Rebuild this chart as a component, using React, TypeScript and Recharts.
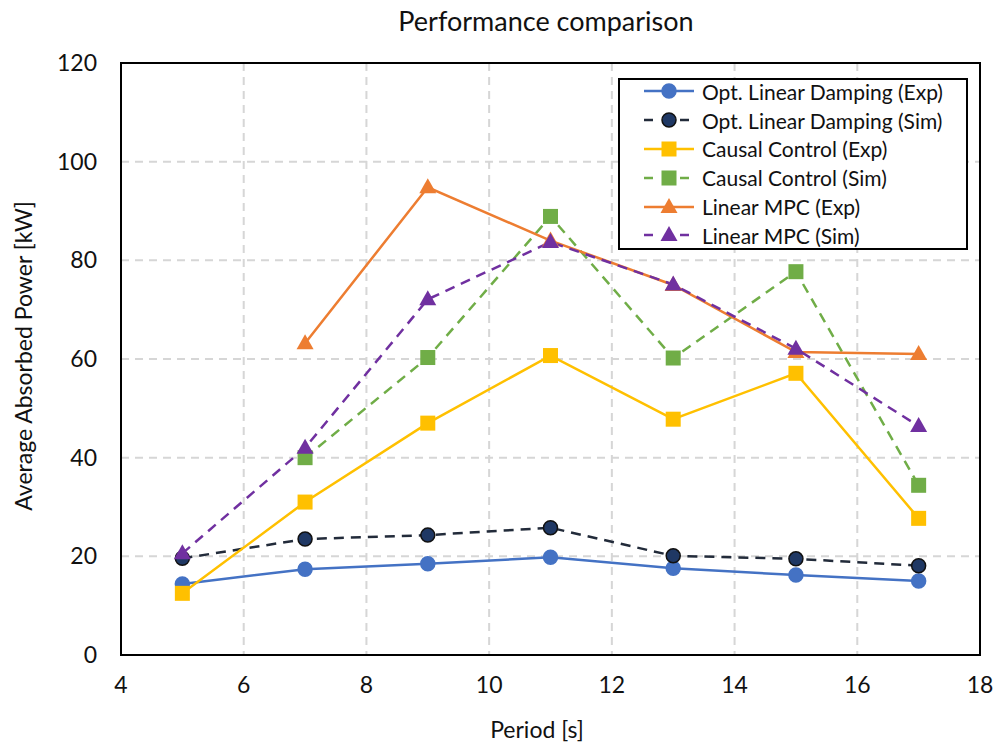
import React from "react";
import {
  LineChart,
  Line,
  XAxis,
  YAxis,
  CartesianGrid,
  ReferenceArea,
} from "recharts";

// Period [s]
const periods = [5, 7, 9, 11, 13, 15, 17];

// Average absorbed power [kW]
const dampExp = [14.4, 17.4, 18.5, 19.8, 17.6, 16.2, 15.0];
const dampSim = [19.6, 23.5, 24.3, 25.8, 20.1, 19.5, 18.1];
const causalExp = [12.5, 31.0, 47.0, 60.7, 47.8, 57.1, 27.7];
const causalSim = [null, 40.0, 60.3, 88.9, 60.2, 77.7, 34.4];
const mpcExp = [null, 63.2, 94.8, 84.0, 75.0, 61.4, 61.0];
const mpcSim = [20.6, 42.0, 72.1, 83.7, 75.1, 62.1, 46.4];

const xTicks = [4, 6, 8, 10, 12, 14, 16, 18];
const yTicks = [0, 20, 40, 60, 80, 100, 120];

const series = [
  { key: "dampExp", name: "Opt. Linear Damping (Exp)", color: "#4472C4", dash: undefined, shape: "circle", fill: "#4472C4" },
  { key: "dampSim", name: "Opt. Linear Damping (Sim)", color: "#222B3A", dash: "10 7", shape: "circle", fill: "#1F3864" },
  { key: "causalExp", name: "Causal Control (Exp)", color: "#FFC000", dash: undefined, shape: "square", fill: "#FFC000" },
  { key: "causalSim", name: "Causal Control (Sim)", color: "#70AD47", dash: "10 7", shape: "square", fill: "#70AD47" },
  { key: "mpcExp", name: "Linear MPC (Exp)", color: "#ED7D31", dash: undefined, shape: "triangle", fill: "#ED7D31" },
  { key: "mpcSim", name: "Linear MPC (Sim)", color: "#7030A0", dash: "10 7", shape: "triangle", fill: "#7030A0" },
];

const data = periods.map((p, i) => ({
  period: p,
  dampExp: dampExp[i],
  dampSim: dampSim[i],
  causalExp: causalExp[i],
  causalSim: causalSim[i],
  mpcExp: mpcExp[i],
  mpcSim: mpcSim[i],
}));

const FONT = "Lato, 'Noto Sans', sans-serif";

function Marker({ cx, cy, shape, fill, stroke }: any) {
  if (cx == null || cy == null || isNaN(cx) || isNaN(cy)) return <g />;
  if (shape === "square")
    return <rect x={cx - 7.5} y={cy - 7.5} width={15} height={15} fill={fill} />;
  if (shape === "triangle")
    return (
      <polygon
        points={`${cx},${cy - 9} ${cx + 8.5},${cy + 6} ${cx - 8.5},${cy + 6}`}
        fill={fill}
      />
    );
  return <circle cx={cx} cy={cy} r={7} fill={fill} stroke={stroke} strokeWidth={1.5} />;
}

function LegendBox() {
  return (
    <div
      style={{
        border: "2px solid #000",
        background: "#fff",
        width: 350,
        height: 172,
        boxSizing: "border-box",
        padding: "0 0 0 22px",
        fontFamily: FONT,
        fontSize: 21,
        color: "#111",
      }}
    >
      <div style={{ marginTop: -3 }}>
        {series.map((s) => (
          <div key={s.key} style={{ display: "flex", alignItems: "center", height: 28.8 }}>
            <svg width={56} height={20} style={{ marginRight: 4 }}>
              <line
                x1={2}
                x2={52}
                y1={10}
                y2={10}
                stroke={s.color}
                strokeWidth={2.5}
                strokeDasharray={s.dash ? "9 9" : undefined}
              />
              {s.dash && <rect x={17} y={0} width={18} height={20} fill="#fff" />}
              <Marker cx={27} cy={10} shape={s.shape} fill={s.fill} stroke={s.key === "dampSim" ? "#111" : s.fill} />
            </svg>
            <span>{s.name}</span>
          </div>
        ))}
      </div>
    </div>
  );
}

export default function App() {
  return (
    <div style={{ position: "absolute", left: 0, top: 0, width: 997, height: 747, background: "#fff" }}>
      <div
        style={{
          position: "absolute",
          top: 4,
          left: 0,
          width: 1092,
          textAlign: "center",
          fontFamily: FONT,
          fontSize: 27,
          color: "#111",
        }}
      >
        Performance comparison
      </div>
      <LineChart
        width={997}
        height={747}
        data={data}
        margin={{ top: 63, right: 17, bottom: 0, left: 0 }}
      >
        <CartesianGrid stroke="#d6d6d6" strokeWidth={2} strokeDasharray="8 6" />
        <XAxis
          dataKey="period"
          type="number"
          domain={[4, 18]}
          ticks={xTicks}
          height={92}
          axisLine={false}
          tickLine={false}
          tickSize={0}
          tickMargin={22}
          tick={{ fill: "#111", fontSize: 23, fontFamily: FONT }}
          label={{
            content: () => (
              <text x={537} y={738} textAnchor="middle" fill="#111" fontSize={23} fontFamily={FONT}>
                Period [s]
              </text>
            ),
          }}
        />
        <YAxis
          type="number"
          domain={[0, 120]}
          ticks={yTicks}
          width={121}
          axisLine={false}
          tickLine={false}
          tickSize={0}
          tickMargin={24}
          tick={{ fill: "#111", fontSize: 23, fontFamily: FONT }}
          label={{
            content: () => (
              <text
                x={32}
                y={356}
                transform="rotate(-90 32 356)"
                textAnchor="middle"
                fill="#111"
                fontSize={23}
                fontFamily={FONT}
              >
                Average Absorbed Power [kW]
              </text>
            ),
          }}
        />
        <ReferenceArea x1={4} x2={18} y1={0} y2={120} fill="none" stroke="#000" strokeWidth={2} />
        {series.map((s) => (
          <Line
            key={s.key}
            dataKey={s.key}
            name={s.name}
            type="linear"
            stroke={s.color}
            strokeWidth={2.5}
            strokeDasharray={s.dash}
            isAnimationActive={false}
            dot={(p: any) => (
              <Marker
                key={`${s.key}-${p.index}`}
                cx={p.cx}
                cy={p.cy}
                shape={s.shape}
                fill={s.fill}
                stroke={s.key === "dampSim" ? "#111" : s.fill}
              />
            )}
            activeDot={false}
          />
        ))}
      </LineChart>
      <div style={{ position: "absolute", left: 618, top: 78 }}>
        <LegendBox />
      </div>
    </div>
  );
}
